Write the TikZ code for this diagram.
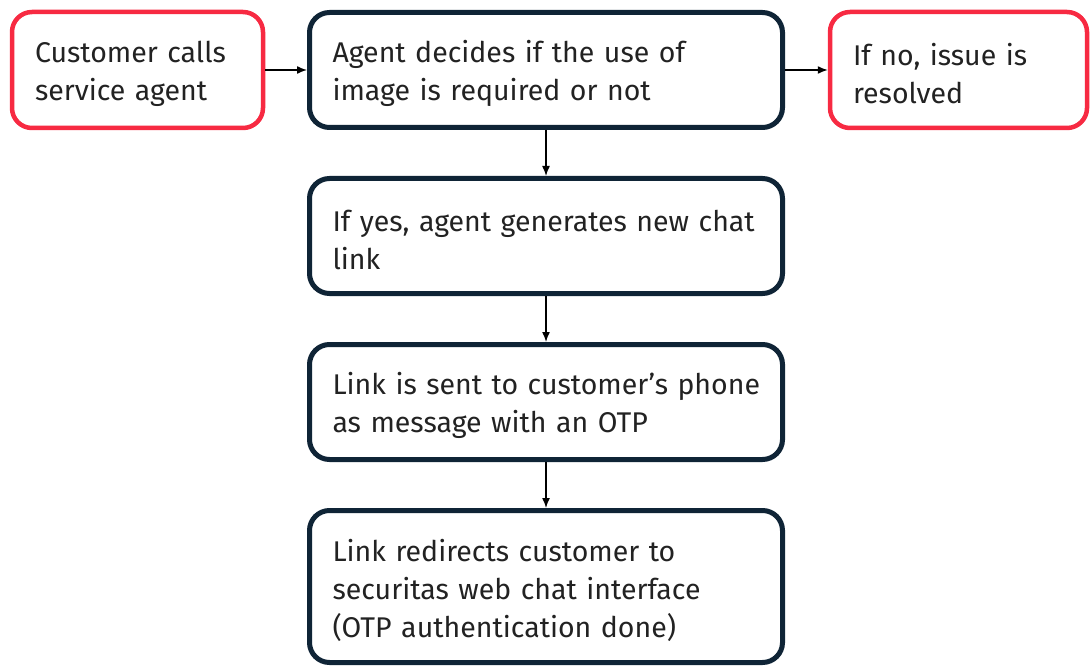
\documentclass[tikz,border=0pt]{standalone}
\usepackage{fontspec}
\setmainfont{Fira Sans}
\usetikzlibrary{arrows.meta}
\definecolor{boxred}{HTML}{F72A42}
\definecolor{boxdark}{HTML}{0F2436}
\definecolor{txt}{HTML}{222222}
\hbadness=10000 \hfuzz=100pt
\tikzset{
  x=1pt,y=1pt,
  basebox/.style={rounded corners=20pt, fill=white, inner xsep=23pt, inner ysep=0pt,
    align=left, text=txt, font=\fontsize{28.5}{38}\selectfont, anchor=center,
    execute at begin node={\rule{0pt}{30pt}}},
  redbox/.style={basebox, draw=boxred, line width=4.5pt},
  darkbox/.style={basebox, draw=boxdark, line width=5pt},
  conn/.style={draw=black, line width=1.4pt, -{Latex[length=10pt,width=8pt]}}
}
\begin{document}
\begin{tikzpicture}
\useasboundingbox (0,0) rectangle (1091,-668);
\node[redbox, minimum width=251pt, minimum height=116pt, text width=205pt] (a) at (137.5,-70) {\mbox{Customer calls}\\\mbox{service agent}};
\node[darkbox, minimum width=473pt, minimum height=115pt, text width=427pt] (b) at (546,-70) {\mbox{Agent decides if the use of}\\\mbox{image is required or not}};
\node[redbox, minimum width=257pt, minimum height=116pt, text width=211pt] (c) at (958.5,-70) {\mbox{If no, issue is}\\\mbox{resolved}};
\node[darkbox, minimum width=473pt, minimum height=115pt, text width=427pt] (d) at (546,-236) {\mbox{If yes, agent generates new chat}\\\mbox{link}};
\node[darkbox, minimum width=473pt, minimum height=115pt, text width=427pt] (e) at (546,-402) {\mbox{Link is sent to customer’s phone}\\\mbox{as message with an OTP}};
\node[darkbox, minimum width=473pt, minimum height=152pt, text width=427pt] (f) at (546,-586.5) {\mbox{Link redirects customer to}\\\mbox{securitas web chat interface}\\\mbox{(OTP authentication done)}};
\draw[conn] (a) -- (b);
\draw[conn] (b) -- (c);
\draw[conn] (b) -- (d);
\draw[conn] (d) -- (e);
\draw[conn] (e) -- (f);
\end{tikzpicture}
\end{document}
